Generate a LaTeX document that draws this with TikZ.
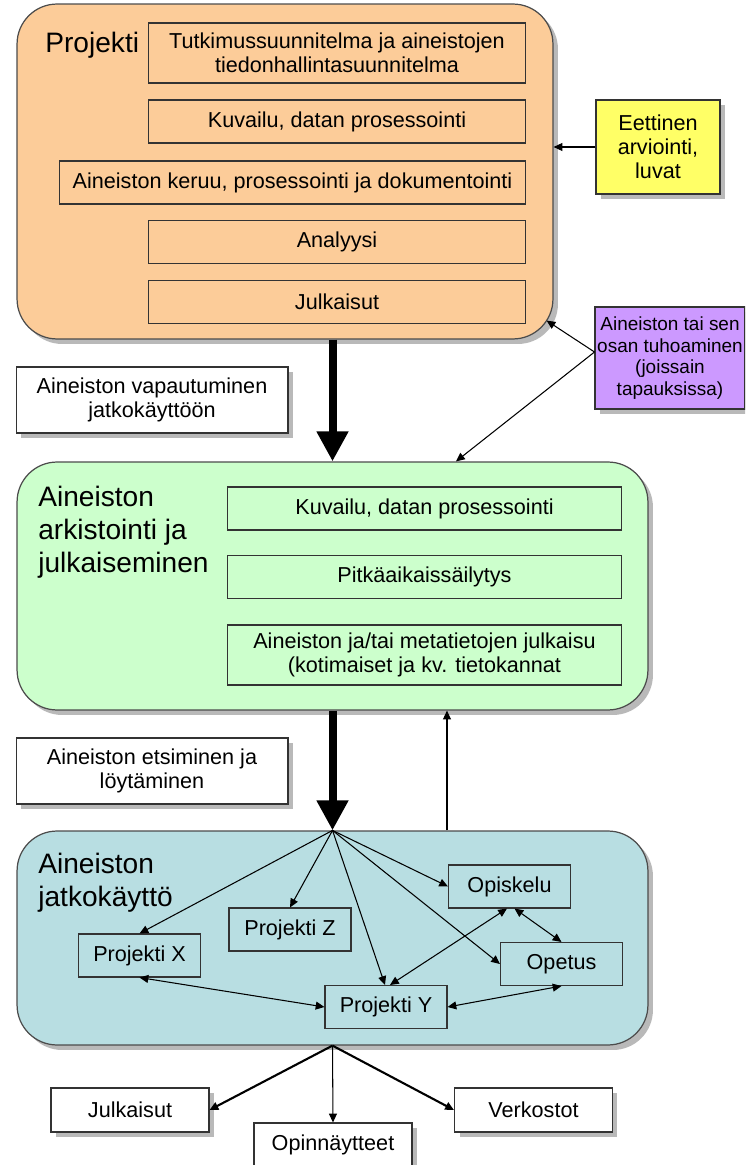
\documentclass[tikz,border=0pt]{standalone}
\usepackage{fontspec}
\setmainfont{Liberation Sans}
\usetikzlibrary{arrows.meta,shadows}
\definecolor{projfill}{RGB}{252,204,153}
\definecolor{arkfill}{RGB}{204,255,204}
\definecolor{jatkofill}{RGB}{184,222,226}
\definecolor{eettfill}{RGB}{255,255,102}
\definecolor{tuhofill}{RGB}{204,153,255}

\begin{document}
\begin{tikzpicture}[
        x=0.02cm, y=-0.02cm,
        boxshadow/.style={drop shadow={shadow xshift=0.1cm, shadow yshift=-0.1cm, fill=black!50, opacity=0.55}},
        big/.style={draw=black!70, line width=0.7pt, rounded corners=0.8cm, boxshadow},
        inbox/.style={draw=black!80, line width=0.6pt, align=center, minimum height=0.86cm,
          font=\fontsize{12.3}{13.6}\selectfont},
        note/.style={draw=black!80, line width=0.6pt, fill=white, align=center, boxshadow,
          font=\fontsize{12.3}{13.6}\selectfont},
        title/.style={inner sep=0pt, align=left, font=\fontsize{16}{18.7}\selectfont},
        flow/.style={line width=0.16cm, -{Triangle[width=0.6cm,length=0.6cm]}},
        >={Triangle[length=5pt,width=4.5pt]}
        ]
        \useasboundingbox (0,0) rectangle (745,1165);
        \clip (0,0) rectangle (745,1165);

        % three stages
        \node[big, fill=projfill, minimum width=10.72cm, minimum height=6.7cm] (proj) at (285,171.5) {};
        \node[big, fill=arkfill, minimum width=12.62cm, minimum height=4.96cm] (arkisto) at (332.5,586) {};
        \node[big, fill=jatkofill, minimum width=12.62cm, minimum height=4.28cm] (jatko) at (332.5,938) {};

        \node[title, anchor=base west] (projt) at (45,53) {Projekti};
        \node[title, anchor=north west] (arkt) at (38,486) {Aineiston\\arkistointi ja\\julkaiseminen};
        \node[title, anchor=north west] (jatkot) at (38,853) {Aineiston\\jatkokäyttö};

        \node[inbox, minimum width=7.56cm, minimum height=1.2cm] (tutk) at (337,53)
          {Tutkimussuunnitelma ja aineistojen\\tiedonhallintasuunnitelma};
        \node[inbox, minimum width=9.34cm] (keruu) at (292.5,182.5)
          {Aineiston keruu, prosessointi ja dokumentointi};
        \foreach \n/\y/\t in {kuv/121.5/{Kuvailu, datan prosessointi},anal/242/Analyysi,julk/302/Julkaisut}
          \node[inbox, minimum width=7.56cm] (\n) at (337,\y) {\t};

        \node[inbox, minimum width=7.9cm] (kuvb) at (424.5,508.5) {Kuvailu, datan prosessointi};
        \node[inbox, minimum width=7.9cm] (pitka) at (424.5,577) {Pitkäaikaissäilytys};
        \node[inbox, minimum width=7.9cm, minimum height=1.2cm] (julkb) at (424.5,655)
          {Aineiston ja/tai metatietojen julkaisu\\(kotimaiset ja kv. tietokannat};

        % side notes
        \node[note, fill=eettfill, minimum width=2.48cm, minimum height=1.88cm] (eett) at (658,147)
          {Eettinen\\arviointi,\\luvat};
        \node[note, fill=tuhofill, minimum width=3.0cm, minimum height=2.04cm, inner sep=0pt,
          font=\fontsize{10.8}{12.3}\selectfont] (tuho) at (670,358)
          {Aineiston tai sen\\osan tuhoaminen\\(joissain\\tapauksissa)};
        \node[note, minimum width=5.44cm, minimum height=1.32cm] (vapaut) at (152,400)
          {Aineiston vapautuminen\\jatkokäyttöön};
        \node[note, minimum width=5.44cm, minimum height=1.32cm] (etsi) at (152,771)
          {Aineiston etsiminen ja\\löytäminen};

        % reuse
        \node[inbox, minimum width=2.44cm] (opisk) at (509.5,886.5) {Opiskelu};
        \node[inbox, minimum width=2.44cm] (pz) at (290,929.5) {Projekti Z};
        \node[inbox, minimum width=2.44cm] (px) at (139.5,955.5) {Projekti X};
        \node[inbox, minimum width=2.44cm] (opet) at (561.5,964) {Opetus};
        \node[inbox, minimum width=2.44cm] (py) at (386,1007) {Projekti Y};

        \node[note, minimum width=3.16cm, minimum height=0.88cm] (julkc) at (130,1110) {Julkaisut};
        \node[note, minimum width=3.16cm, minimum height=0.88cm] (verk) at (533.5,1110) {Verkostot};
        \node[note, minimum width=3.16cm, minimum height=0.88cm] (opinn) at (333,1145) {Opinnäytteet};

        \draw[flow] (proj.south -| arkisto.north) -- (arkisto.north);
        \draw[flow] (arkisto.south) -- (jatko.north);
        \draw[->, line width=0.6pt] ([xshift=2.29cm]jatko.north) -- ([xshift=2.29cm]arkisto.south);

        \draw[->, line width=0.6pt] (eett.west) -- (eett.west -| proj.east);
        \draw[->, line width=0.6pt] ([yshift=0.12cm]tuho.west) -- ([xshift=-0.14cm,yshift=0.38cm]proj.south east);
        \draw[->, line width=0.6pt] ([yshift=0.12cm]tuho.west) -- ([xshift=2.47cm]arkisto.north);

        \foreach \t in {px.north,pz.north,opisk.west,opet.west}
          \draw[->, line width=0.6pt] (jatko.north) -- (\t);
        \draw[->, line width=0.6pt] (jatko.north) -- ([xshift=-0.02cm]py.north);
        \draw[<->, line width=0.6pt] (px.south) -- (py.west);
        \draw[<->, line width=0.6pt] (py.east) -- (opet.south);
        \draw[<->, line width=0.6pt] ([xshift=0.08cm]py.north) -- ([xshift=-0.05cm]opisk.south);
        \draw[<->, line width=0.6pt] ([xshift=0.1cm]opisk.south) -- (opet.north);

        \draw[->, line width=1.2pt] (jatko.south) -- (julkc.east);
        \draw[->, line width=0.6pt] (jatko.south) -- (opinn.north);
        \draw[->, line width=1.2pt] (jatko.south) -- (verk.west);
\end{tikzpicture}
\end{document}
